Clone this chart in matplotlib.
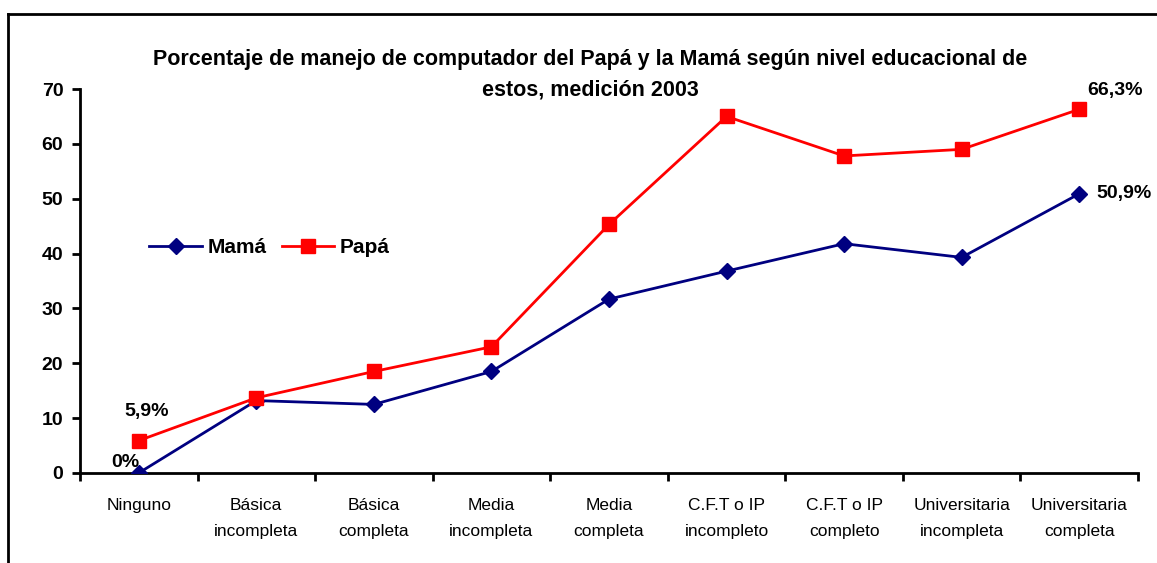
import matplotlib
matplotlib.use("Agg")
import matplotlib.pyplot as plt
from matplotlib.lines import Line2D

# categories (nivel educacional)
categorias = ["Ninguno", "Básica\nincompleta", "Básica\ncompleta", "Media\nincompleta",
              "Media\ncompleta", "C.F.T o IP\nincompleto", "C.F.T o IP\ncompleto",
              "Universitaria\nincompleta", "Universitaria\ncompleta"]
mama = [0.0, 13.2, 12.5, 18.5, 31.7, 36.8, 41.8, 39.3, 50.9]
papa = [5.9, 13.7, 18.5, 23.0, 45.3, 65.0, 57.8, 59.0, 66.3]
y_ticks = [0, 10, 20, 30, 40, 50, 60, 70]

FONT = ["Liberation Sans", "DejaVu Sans"]
plt.rcParams["font.family"] = FONT

fig = plt.figure(figsize=(11.57, 5.63), dpi=100)
ax = fig.add_axes([0.0691, 0.1599, 0.9145, 0.6820])

x = list(range(len(categorias)))
ax.plot(x, mama, color="#000080", lw=2, marker="D", ms=8, mfc="#000080", mec="#000080",
        label="Mamá", zorder=3)
ax.plot(x, papa, color="#ff0000", lw=2, marker="s", ms=10.5, mfc="#ff0000", mec="#ff0000",
        label="Papá", zorder=4)

ax.set_xlim(-0.5, len(categorias) - 0.5)
ax.set_ylim(0, 70)
ax.set_yticks(y_ticks)
ax.set_yticklabels([str(v) for v in y_ticks], fontsize=14, fontweight="bold")
ax.set_xticks([i + 0.5 for i in range(-1, len(categorias))])
ax.set_xticklabels([])
ax.set_xticks(x, minor=True)
ax.set_xticklabels(categorias, minor=True, fontsize=12.5, linespacing=1.9)
ax.tick_params(axis="x", which="minor", length=0, pad=18)
ax.tick_params(axis="x", which="major", direction="out", length=6, width=2)
ax.tick_params(axis="y", direction="out", length=6, width=2, pad=6)

for s in ["top", "right"]:
    ax.spines[s].set_visible(False)
for s in ["left", "bottom"]:
    ax.spines[s].set_linewidth(2)

# data labels
lab = dict(fontsize=14, fontweight="bold")
ax.annotate("5,9%", (0, papa[0]), xytext=(6, 18), textcoords="offset points", ha="center", **lab)
ax.annotate("0%", (0, mama[0]), xytext=(-10, 4), textcoords="offset points", ha="center", **lab)
ax.annotate("66,3%", (8, papa[8]), xytext=(6, 10), textcoords="offset points", ha="left", **lab)
ax.annotate("50,9%", (8, mama[8]), xytext=(12, 0), textcoords="offset points", ha="left",
            va="center", **lab)

fig.text(0.51, 0.868, "Porcentaje de manejo de computador del Papá y la Mamá según nivel educacional de\nestos, medición 2003",
         ha="center", va="center", fontsize=15.5, fontweight="bold", linespacing=1.6)

ax.legend(loc="upper left", bbox_to_anchor=(0.048, 0.66), ncol=2, frameon=False,
          prop=dict(size=15, weight="bold"), handlelength=2.5, columnspacing=0.7,
          handletextpad=0.3)

# frame of the chart area
fig.add_artist(Line2D([8 / 1157, 8 / 1157], [0, 1 - 14 / 563], color="black", lw=2))
fig.add_artist(Line2D([8 / 1157, 1], [1 - 14 / 563, 1 - 14 / 563], color="black", lw=2))

fig.savefig("out.png", dpi=100)
